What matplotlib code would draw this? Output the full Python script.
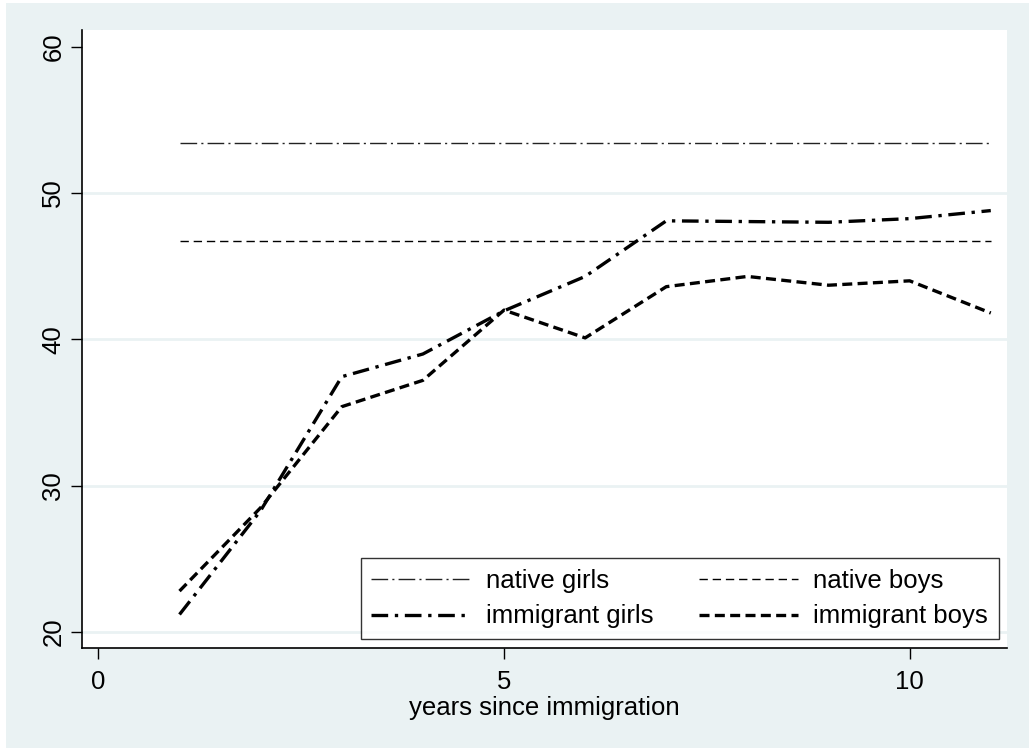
import numpy as np
import matplotlib
matplotlib.use('Agg')
import matplotlib.pyplot as plt

plt.rcParams['font.family'] = ['Liberation Sans', 'DejaVu Sans']

# 移民後の年数
years = [1, 2, 3, 4, 5, 6, 7, 8, 9, 10, 11]
immigrant_girls = [21.2, 28.3, 37.45, 39.0, 41.95, 44.3, 48.1, 48.05, 48.0, 48.25, 48.8]
immigrant_boys = [22.8, 28.5, 35.4, 37.2, 42.0, 40.1, 43.6, 44.3, 43.7, 44.0, 41.8]
native_girls = 53.4
native_boys = 46.7

x_ticks = [0, 5, 10]
y_ticks = [20, 30, 40, 50, 60]
grid_y = [20, 30, 40, 50]

bg = '#eaf2f3'
fs = 18.5
fig = plt.figure(figsize=(10.35, 7.52), dpi=100)
fig.patch.set_facecolor('white')
# 外枠の背景
fig.patches.append(plt.Rectangle((6 / 1035, 4 / 752), 1 - 12 / 1035, 1 - 7 / 752,
                                 transform=fig.transFigure, facecolor=bg,
                                 edgecolor='none', zorder=-1))

ax = fig.add_axes([82 / 1035, 104 / 752, 925 / 1035, 618 / 752])
ax.set_facecolor('white')

for y in grid_y:
    ax.axhline(y, color=bg, lw=2, zorder=0)

l_ng, = ax.plot([years[0], years[-1]], [native_girls] * 2, color='#222222', lw=1.0,
                dashes=(12, 3, 1.5, 3), label='native girls')
l_nb, = ax.plot([years[0], years[-1]], [native_boys] * 2, color='black', lw=1.0,
                dashes=(6, 3.5), label='native boys')
l_ig, = ax.plot(years, immigrant_girls, color='black', lw=2.4,
                dashes=(5, 2, 1, 2), label='immigrant girls')
l_ib, = ax.plot(years, immigrant_boys, color='black', lw=2.4,
                dashes=(3, 1.6), label='immigrant boys')

ax.set_xlim(-0.202, 11.2)
ax.set_ylim(18.91, 61.14)
ax.set_xticks(x_ticks)
ax.set_yticks(y_ticks)
ax.tick_params(direction='out', length=8, width=1, labelsize=fs)
ax.tick_params(axis='x', pad=8)
ax.tick_params(axis='y', pad=4)
for lbl in ax.get_yticklabels():
    lbl.set_rotation(90)
    lbl.set_va('center')
ax.set_xlabel('years since immigration', fontsize=fs, labelpad=1)

for s in ['top', 'right']:
    ax.spines[s].set_visible(False)
for s in ['left', 'bottom']:
    ax.spines[s].set_linewidth(1.2)

# 列方向に並ぶので順番を入れ替える
handles = [l_ng, l_ig, l_nb, l_ib]
leg = ax.legend(handles=handles, labels=[h.get_label() for h in handles],
                ncol=2, loc='lower left', bbox_to_anchor=(0.3013, 0.0141, 0.690, 0.1364),
                mode='expand', borderaxespad=0, fontsize=fs, frameon=True, fancybox=False,
                edgecolor='black', handlelength=3.85, handletextpad=0.6,
                borderpad=0.42, labelspacing=0.45, columnspacing=1.5)
leg.get_frame().set_linewidth(1.0)

fig.savefig('out.png', dpi=100, facecolor='white')
